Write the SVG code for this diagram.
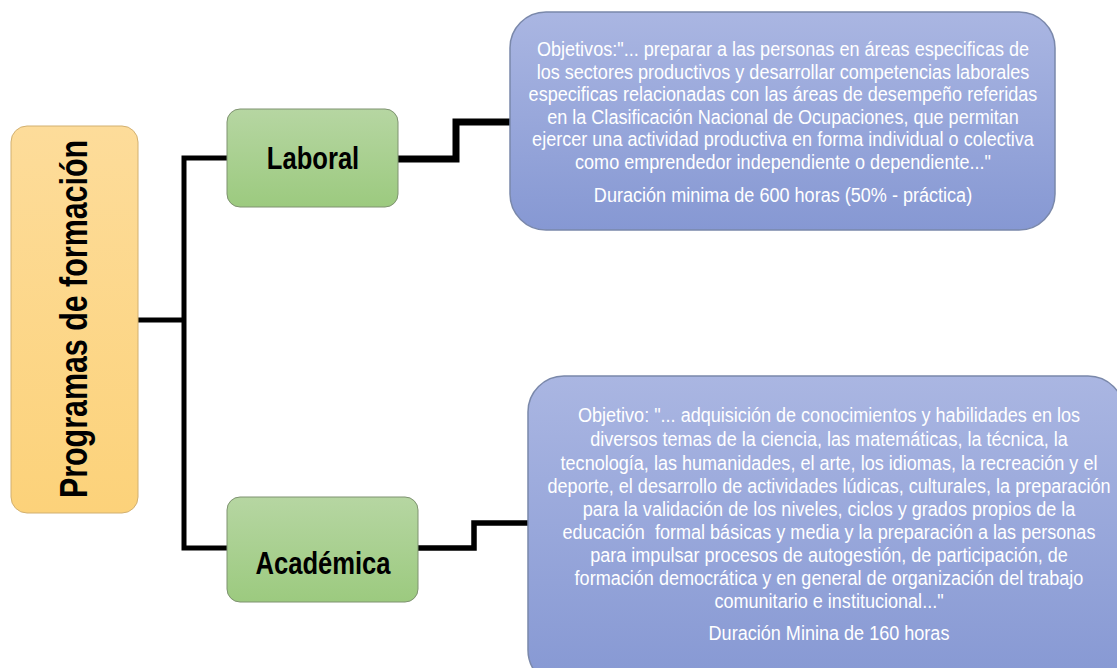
<svg xmlns="http://www.w3.org/2000/svg" width="1117" height="668" viewBox="0 0 1117 668">
<defs>
<linearGradient id="gy" x1="0" y1="0" x2="0" y2="1"><stop offset="0" stop-color="#fddc9a"/><stop offset="1" stop-color="#fcd27a"/></linearGradient>
<linearGradient id="gg" x1="0" y1="0" x2="0" y2="1"><stop offset="0" stop-color="#b6d6a2"/><stop offset="1" stop-color="#9cca7f"/></linearGradient>
<linearGradient id="gb" x1="0" y1="0" x2="0" y2="1"><stop offset="0" stop-color="#aab6e2"/><stop offset="1" stop-color="#8698d3"/></linearGradient>
</defs>
<style>
.yel{fill:url(#gy);stroke:#d2b070;stroke-width:1}
.grn{fill:url(#gg);stroke:#7e9270;stroke-width:1}
.blu{fill:url(#gb);stroke:#7a88aa;stroke-width:1.5}
.lbl{font-family:"Liberation Sans",Arial,sans-serif;font-weight:bold;fill:#000;text-anchor:middle}
.bt{font-family:"Liberation Sans",Arial,sans-serif;font-size:21px;fill:#fff;text-anchor:middle}
.con{fill:none;stroke:#000;stroke-linejoin:miter}
</style>
<g id="connectors">
<path class="con" stroke-width="5" d="M138 320 H184 M184 158 V548 M181.5 158 H228 M181.5 548 H228"/>
<path class="con" stroke-width="7" d="M398 159 H456 V122 H510"/>
<path class="con" stroke-width="5.5" d="M418 548 H474 V523 H528"/>
</g>
<g id="programas">
<rect class="yel" x="11" y="126" width="127" height="387" rx="16"/>
<text class="lbl" font-size="38" transform="translate(87,319) rotate(-90) scale(0.8,1)" x="0" y="0">Programas de formación</text>
</g>
<g id="laboral">
<rect class="grn" x="227" y="109" width="171" height="98" rx="13"/>
<text class="lbl" font-size="32" transform="translate(313,169) scale(0.8,1)">Laboral</text>
</g>
<g id="academica">
<rect class="grn" x="227" y="497" width="191" height="105" rx="13"/>
<text class="lbl" font-size="32" transform="translate(323,574) scale(0.8,1)">Académica</text>
</g>
<g id="obj-laboral">
<rect class="blu" x="510" y="12" width="545" height="218" rx="36"/>
<g transform="translate(783,0) scale(0.86,1)">
<text class="bt" x="0" y="56">Objetivos:"... preparar a las personas en áreas especificas de</text>
<text class="bt" x="0" y="79">los sectores productivos y desarrollar competencias laborales</text>
<text class="bt" x="0" y="101">especificas relacionadas con las áreas de desempeño referidas</text>
<text class="bt" x="0" y="124">en la Clasificación Nacional de Ocupaciones, que permitan</text>
<text class="bt" x="0" y="146">ejercer una actividad productiva en forma individual o colectiva</text>
<text class="bt" x="0" y="169">como emprendedor independiente o dependiente..."</text>
<text class="bt" x="0" y="202">Duración minima de 600 horas (50% - práctica)</text>
</g>
</g>
<g id="obj-academica">
<rect class="blu" x="528" y="376" width="596" height="310" rx="36"/>
<g transform="translate(829,0) scale(0.86,1)">
<text class="bt" x="0" y="422">Objetivo: "... adquisición de conocimientos y habilidades en los</text>
<text class="bt" x="0" y="446">diversos temas de la ciencia, las matemáticas, la técnica, la</text>
<text class="bt" x="0" y="470">tecnología, las humanidades, el arte, los idiomas, la recreación y el</text>
<text class="bt" x="0" y="493">deporte, el desarrollo de actividades lúdicas, culturales, la preparación</text>
<text class="bt" x="0" y="516">para la validación de los niveles, ciclos y grados propios de la</text>
<text class="bt" x="0" y="539" xml:space="preserve">educación  formal básicas y media y la preparación a las personas</text>
<text class="bt" x="0" y="562">para impulsar procesos de autogestión, de participación, de</text>
<text class="bt" x="0" y="585">formación democrática y en general de organización del trabajo</text>
<text class="bt" x="0" y="608">comunitario e institucional..."</text>
<text class="bt" x="0" y="640">Duración Minina de 160 horas</text>
</g>
</g>
</svg>
